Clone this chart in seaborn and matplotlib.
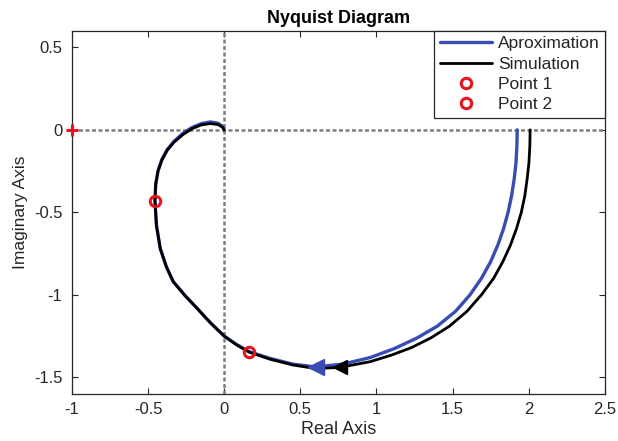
import numpy as np
import pandas as pd
import matplotlib
matplotlib.use("Agg")
import matplotlib.pyplot as plt
import seaborn as sns

# ---- data ----
approx_re = [1.925, 1.923, 1.917, 1.905, 1.888, 1.865, 1.835, 1.797, 1.75, 1.69, 1.615, 1.52,
             1.40, 1.27, 1.12, 0.96, 0.78, 0.60,
             0.45, 0.30, 0.165, 0.08, 0.0, -0.09, -0.18, -0.256, -0.335, -0.38, -0.42, -0.445,
             -0.455, -0.45, -0.435, -0.41, -0.375, -0.33, -0.27, -0.21, -0.15, -0.09, -0.04,
             -0.01, 0.0]
approx_im = [0.0, -0.10, -0.20, -0.30, -0.40, -0.50, -0.60, -0.70, -0.80, -0.90, -1.00, -1.10,
             -1.19, -1.26, -1.325, -1.38, -1.42, -1.437,
             -1.42, -1.385, -1.345, -1.30, -1.25, -1.17, -1.08, -1.006, -0.92, -0.83, -0.72, -0.58,
             -0.43, -0.33, -0.25, -0.18, -0.12, -0.07, -0.02, 0.015, 0.038, 0.048, 0.04,
             0.02, 0.0]

sim_re = [2.01, 2.008, 2.002, 1.99, 1.975, 1.952, 1.92, 1.88, 1.83, 1.77, 1.69, 1.595,
          1.48, 1.36, 1.23, 1.10, 0.96, 0.76, 0.60,
          0.45, 0.30, 0.165, 0.08, 0.0, -0.09, -0.18, -0.256, -0.335, -0.38, -0.42, -0.445,
          -0.455, -0.45, -0.435, -0.41, -0.375, -0.33, -0.27, -0.21, -0.15, -0.09, -0.04,
          -0.01, 0.0]
sim_im = [0.0, -0.10, -0.20, -0.30, -0.40, -0.50, -0.60, -0.70, -0.80, -0.90, -1.00, -1.10,
          -1.19, -1.26, -1.32, -1.365, -1.405, -1.44, -1.447,
          -1.425, -1.39, -1.348, -1.303, -1.25, -1.17, -1.08, -1.006, -0.92, -0.83, -0.72, -0.58,
          -0.43, -0.33, -0.25, -0.185, -0.125, -0.075, -0.028, 0.008, 0.03, 0.038, 0.032,
          0.015, 0.0]

arrow_idx_approx = 17
arrow_idx_sim = 17

point1 = (-0.455, -0.43)
point2 = (0.165, -1.345)
critical = (-1.0, 0.0)

xticks = [-1, -0.5, 0, 0.5, 1, 1.5, 2, 2.5]
xticklabels = ["-1", "-0.5", "0", "0.5", "1", "1.5", "2", "2.5"]
yticks = [-1.5, -1, -0.5, 0, 0.5]
yticklabels = ["-1.5", "-1", "-0.5", "0", "0.5"]

# ---- style ----
sns.set_theme(style="white")
plt.rcParams["font.family"] = ["Liberation Sans", "DejaVu Sans"]

BLUE = "#3a4bb3"
RED = "#e8141c"
TXT = "#262626"

fig = plt.figure(figsize=(6.18, 4.41), dpi=100)
ax = fig.add_axes([0.1165, 0.107, 0.862, 0.823])

df_a = pd.DataFrame({"re": approx_re, "im": approx_im})
df_s = pd.DataFrame({"re": sim_re, "im": sim_im})

ax.axhline(0, color="#7f7f7f", lw=1.8, ls=(0, (1.6, 1.0)), zorder=1)
ax.axvline(0, color="#7f7f7f", lw=1.8, ls=(0, (1.6, 1.0)), zorder=1)

sns.lineplot(data=df_a, x="re", y="im", sort=False, estimator=None, color=BLUE,
             lw=2.4, ax=ax, label="Aproximation", zorder=3)
sns.lineplot(data=df_s, x="re", y="im", sort=False, estimator=None, color="black",
             lw=2.0, ax=ax, label="Simulation", zorder=4)

# direction arrows
ax.plot(approx_re[arrow_idx_approx], approx_im[arrow_idx_approx], marker="<", ms=11,
        color=BLUE, mec=BLUE, zorder=5)
ax.plot(sim_re[arrow_idx_sim], sim_im[arrow_idx_sim], marker="<", ms=10,
        color="black", mec="black", zorder=5)

ax.plot(point1[0], point1[1], "o", mfc="none", mec=RED, mew=2.2, ms=7.5,
        label="Point 1", zorder=6, ls="none")
ax.plot(point2[0], point2[1], "o", mfc="none", mec=RED, mew=2.2, ms=7.5,
        label="Point 2", zorder=6, ls="none")
ax.plot(critical[0], critical[1], "+", color=RED, mew=2.2, ms=8, zorder=7,
        clip_on=False)

ax.set_xlim(-1, 2.5)
ax.set_ylim(-1.6, 0.6)
ax.set_xticks(xticks)
ax.set_xticklabels(xticklabels)
ax.set_yticks(yticks)
ax.set_yticklabels(yticklabels)
ax.tick_params(direction="in", length=4, width=0.8, colors=TXT, labelsize=12,
               top=True, right=True, bottom=True, left=True)
ax.tick_params(axis="x", pad=6)
ax.tick_params(axis="y", pad=7)
for sp in ax.spines.values():
    sp.set_color(TXT)
    sp.set_linewidth(0.9)

ax.set_xlabel("Real Axis", fontsize=13, color=TXT, labelpad=3)
ax.set_ylabel("Imaginary Axis", fontsize=12.5, color=TXT, labelpad=4)
ax.set_title("Nyquist Diagram", fontsize=13, fontweight="bold", color="black", pad=6)

leg = ax.legend(loc="upper right", fontsize=12.5, frameon=True, fancybox=False,
                edgecolor=TXT, framealpha=1, handlelength=3.0, borderaxespad=0,
                borderpad=0.3, labelspacing=0.3, handletextpad=0.35)
leg.get_frame().set_linewidth(0.9)

fig.savefig("out.png", dpi=100)
